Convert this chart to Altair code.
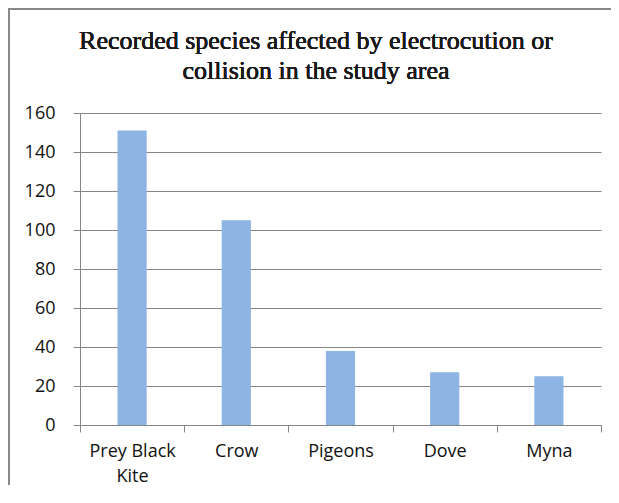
import altair as alt
import pandas as pd

species = ["Prey Black Kite", "Crow", "Pigeons", "Dove", "Myna"]
counts = [151, 105, 38, 27, 25]
title_lines = ["Recorded species affected by electrocution or", "collision in the study area"]

df = pd.DataFrame({"species": species, "count": counts})

W, H = 521, 312
PAD_L, PAD_T, PAD_R, PAD_B = 72, 105, 10, 60

bars = alt.Chart(df).mark_bar(color="#8EB4E3", width={"band": 0.28}).encode(
    x=alt.X("species:N", sort=species, title=None,
            scale=alt.Scale(paddingInner=0, paddingOuter=0),
            axis=alt.Axis(labelAngle=0, tickBand="extent", ticks=True, tickSize=7,
                          tickColor="#868686", domainColor="#868686",
                          labelFont="Open Sans", labelFontSize=18, labelColor="#111111",
                          labelPadding=10, labelLineHeight=25,
                          labelExpr="datum.label == 'Prey Black Kite' ? ['Prey Black', 'Kite'] : datum.label")),
    y=alt.Y("count:Q", title=None,
            scale=alt.Scale(domain=[0, 160], nice=False),
            axis=alt.Axis(values=[0, 20, 40, 60, 80, 100, 120, 140, 160], tickSize=7,
                          tickColor="#868686", domainColor="#868686",
                          grid=True, gridColor="#868686", gridWidth=1,
                          labelFont="Open Sans", labelFontSize=18, labelColor="#111111",
                          labelPadding=18)),
)

title_font = "Times New Roman, Liberation Serif, serif"
title1 = alt.Chart(df).mark_text(font=title_font, fontSize=26, fontWeight=400,
                                 color="#1a1a1a", align="center", baseline="alphabetic").encode(
    x=alt.value(236), y=alt.value(-64), text=alt.value(title_lines[0])
)
title2 = alt.Chart(df).mark_text(font=title_font, fontSize=26, fontWeight=400,
                                 color="#1a1a1a", align="center", baseline="alphabetic").encode(
    x=alt.value(236), y=alt.value(-34), text=alt.value(title_lines[1])
)

border_left = alt.Chart(df).mark_rule(color="#888888", strokeWidth=2).encode(
    x=alt.value(-PAD_L + 1), y=alt.value(-PAD_T), y2=alt.value(H + PAD_B)
)
border_top = alt.Chart(df).mark_rule(color="#888888", strokeWidth=2).encode(
    x=alt.value(-PAD_L), x2=alt.value(W + PAD_R), y=alt.value(-PAD_T + 1)
)

chart = alt.layer(bars, title1, title2, border_left, border_top).properties(
    width=W, height=H,
    autosize=alt.AutoSizeParams(type="none"),
    padding={"left": PAD_L, "top": PAD_T, "right": PAD_R, "bottom": PAD_B},
).configure_view(stroke=None).configure_axis(domainWidth=1, tickWidth=1)

chart.save("out.html", embed_options={"renderer": "svg", "actions": False})
